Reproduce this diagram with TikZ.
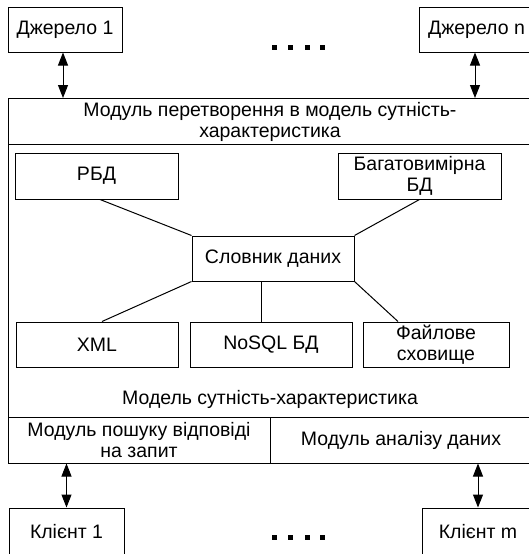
\documentclass[tikz,border=0pt]{standalone}
\usepackage{fontspec}
\setmainfont{Liberation Sans}
\usetikzlibrary{arrows.meta,calc}
\begin{document}
\begin{tikzpicture}[x=1pt,y=-1pt,
  box/.style={draw, line width=1pt, inner sep=0pt, align=center,
    font=\fontsize{19.5}{21}\selectfont, minimum height=45pt},
  lbl/.style={inner sep=0pt, align=center, font=\fontsize{19.5}{21}\selectfont},
  link/.style={line width=1pt},
  biarrow/.style={line width=1pt,
    {Triangle[width=10pt,length=13pt]}-{Triangle[width=10pt,length=13pt]}}]
\useasboundingbox (0,0) rectangle (529,554);
\clip (0,0) rectangle (529,554);

% sources
\node[box, minimum width=114pt] (src1) at (65,29.5) {Джерело 1};
\node[box, minimum width=115pt] (srcn) at (476.5,29.5) {Джерело n};

% outer frame of the system
\draw[link] (8,98) rectangle (532,463);
\node[box, minimum width=524pt, minimum height=46pt] (conv) at (270,121.5)
  {Модуль перетворення в модель сутність-\\характеристика};

% storages
\node[box, minimum width=163pt, minimum height=46pt] (rbd) at (96.5,176) {РБД};
\node[box, minimum width=163pt, minimum height=46pt] (mdb) at (419.5,176) {Багатовимірна\\БД};
\node[box, minimum width=162pt] (dict) at (273,258.5) {Словник даних};
\node[box, minimum width=162pt] (xml) at (97,344.5) {XML};
\node[box, minimum width=162pt] (nosql) at (271,344.5) {NoSQL БД};
\node[box, minimum width=146pt] (file) at (436,344.5) {Файлове\\сховище};

\node[lbl] (model) at (270,399) {Модель сутність-характеристика};

% query and analysis modules
\node[box, minimum width=262pt, minimum height=46pt] (search) at (139,440)
  {Модуль пошуку відповіді\\на запит};
\node[box, minimum width=262pt, minimum height=46pt] (anal) at (401,440)
  {Модуль аналізу даних};

% clients
\node[box, minimum width=115pt, minimum height=48pt] (cl1) at (66.5,532) {Клієнт 1};
\node[box, minimum width=112pt, minimum height=48pt] (clm) at (478,532) {Клієнт m};

% links to the data dictionary
\draw[link] ([xshift=3.5pt]rbd.south) -- (dict.north west);
\draw[link] (mdb.south) -- (dict.north east);
\draw[link] (dict.south west) -- ([xshift=5pt]xml.north);
\draw[link] ([xshift=-12pt]dict.south) -- ([xshift=-10pt]nosql.north);
\draw[link] (dict.south east) -- ([xshift=-38pt]file.north);

% two-way exchanges
\draw[biarrow] ([xshift=-2pt]src1.south) -- ([xshift=-2pt]src1.south |- conv.north);
\draw[biarrow] ([xshift=-1.5pt]srcn.south) -- ([xshift=-1.5pt]srcn.south |- conv.north);
\draw[biarrow] (search.south -| cl1.north) -- (cl1.north);
\draw[biarrow] (anal.south -| clm.north) -- (clm.north);

% ellipses between sources and between clients
\foreach \dx in {274.5,290.5,307.5,322}{
  \fill ($(\dx,47.5)+(-2.5,-2.5)$) rectangle ++(5,5);
  \fill ($(\dx,537)+(-2.5,-2.5)$) rectangle ++(5,5);
}
\end{tikzpicture}
\end{document}
